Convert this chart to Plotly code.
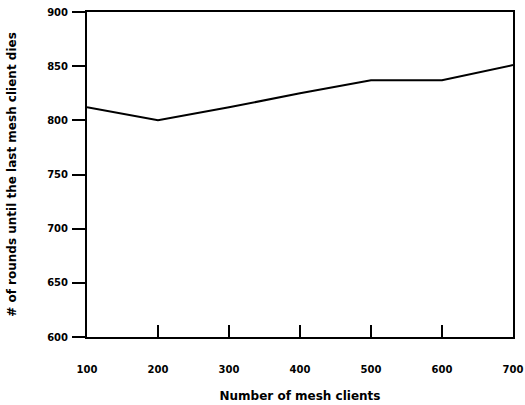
import plotly.graph_objects as go

clients = [100, 200, 300, 400, 500, 600, 700]
rounds = [812, 800, 812, 825, 837, 837, 851]
x_ticks = [100, 200, 300, 400, 500, 600, 700]
y_ticks = [600, 650, 700, 750, 800, 850, 900]

fig = go.Figure()
fig.add_trace(go.Scatter(x=clients, y=rounds, mode="lines",
                         line=dict(color="black", width=2), showlegend=False))

font_fam = "DejaVu Sans"
fig.update_layout(
    width=525, height=405,
    margin=dict(l=87, r=12, t=12, b=68),
    plot_bgcolor="white", paper_bgcolor="white",
    font=dict(family=font_fam, color="black", size=10),
    xaxis=dict(
        range=[100, 700], tickvals=x_ticks, ticktext=[str(v) for v in x_ticks],
        ticks="inside", ticklen=12, tickwidth=2, tickcolor="black",
        showline=True, linecolor="black", linewidth=2, mirror=True,
        showgrid=False, zeroline=False, ticklabelstandoff=22, automargin=False,
        tickfont=dict(size=10, family=font_fam, weight="bold"),
        title=dict(text="Number of mesh clients", standoff=18,
                   font=dict(size=12, family=font_fam, weight="bold")),
    ),
    yaxis=dict(
        range=[600, 900], tickvals=y_ticks, ticktext=[str(v) for v in y_ticks],
        ticks="outside", ticklen=13, tickwidth=2, tickcolor="black",
        showline=True, linecolor="black", linewidth=2, mirror=True,
        showgrid=False, zeroline=False, ticklabelstandoff=2, automargin=False,
        tickfont=dict(size=10, family=font_fam, weight="bold"),
        title=dict(text="# of rounds until the last mesh client dies", standoff=28,
                   font=dict(size=12, family=font_fam, weight="bold")),
    ),
)
fig.write_html("out.html", config={"displayModeBar": False},
               post_script="document.body.style.margin='0';")
